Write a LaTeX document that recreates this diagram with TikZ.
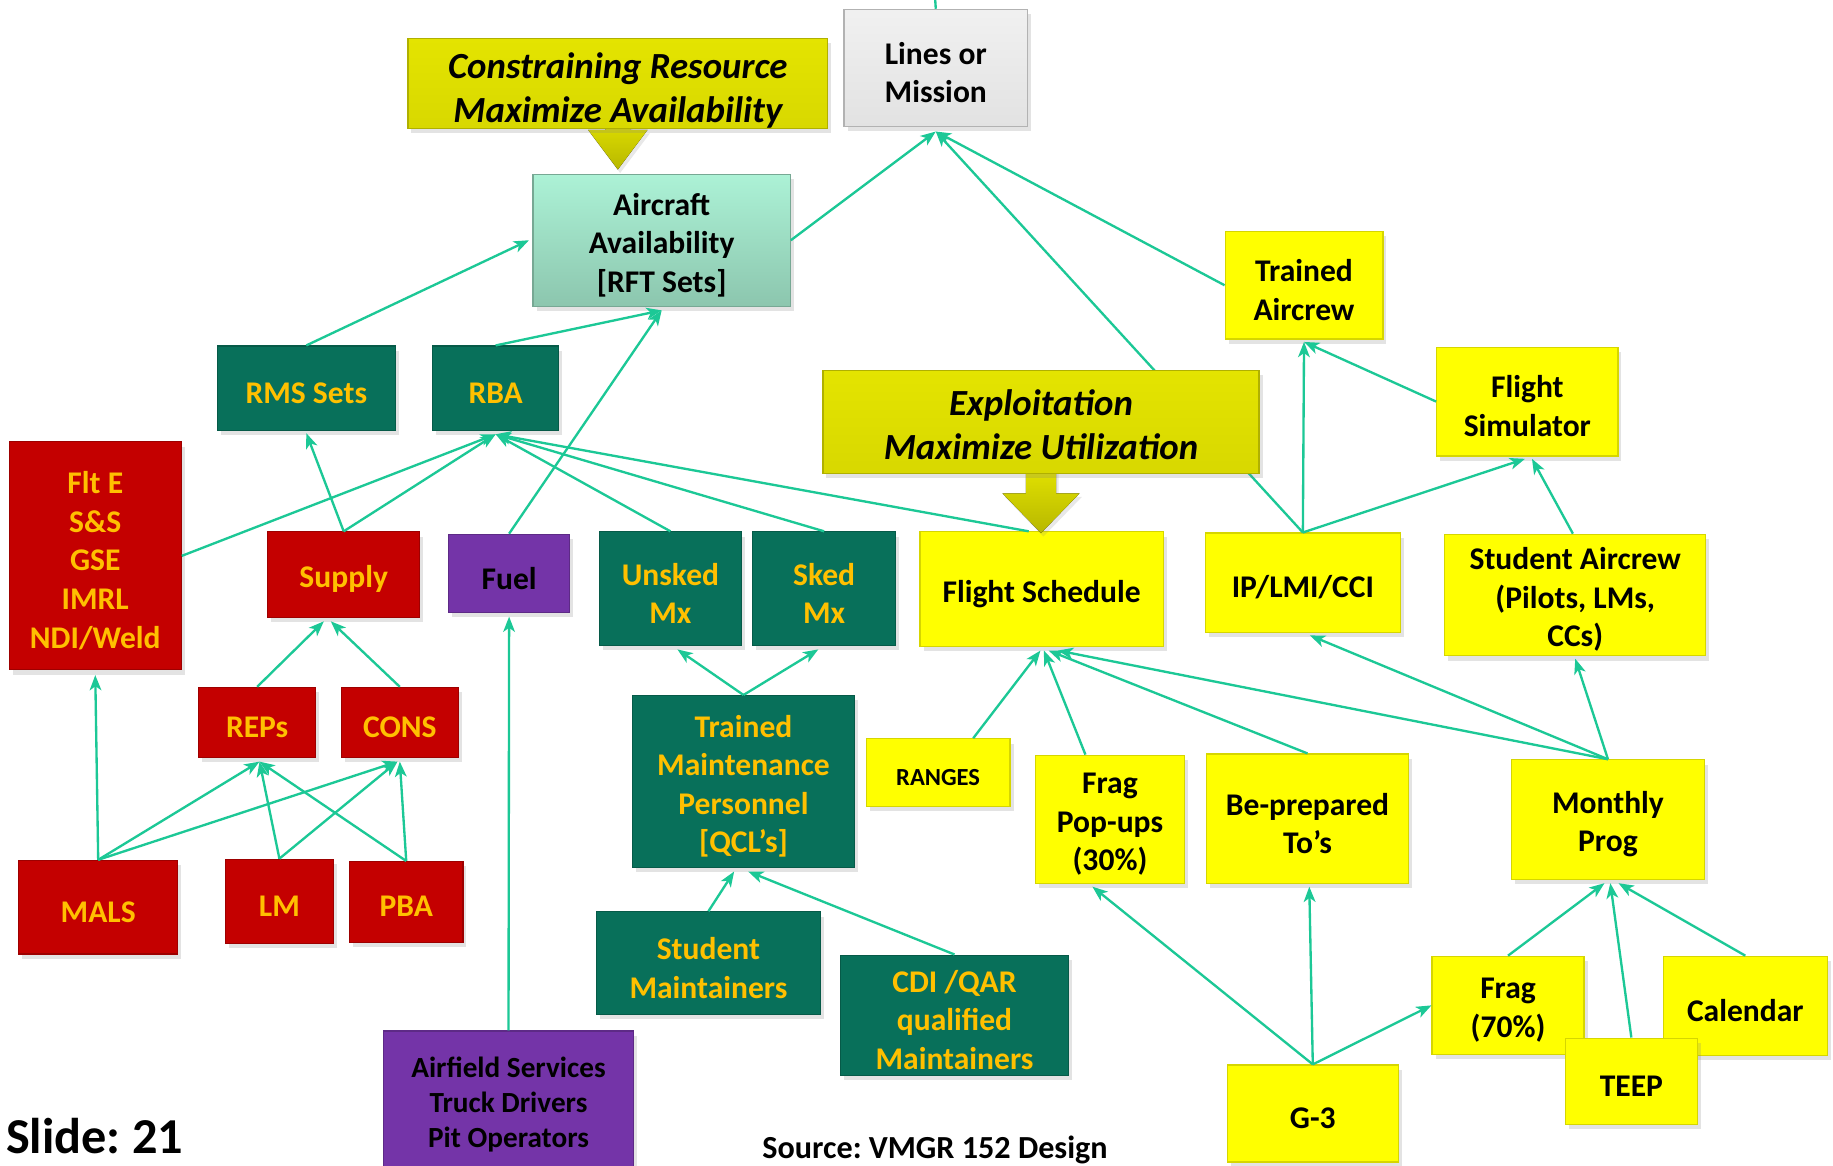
\documentclass[tikz,border=0pt]{standalone}
\usepackage{fontspec}
\setmainfont{Carlito}
\usetikzlibrary{arrows.meta,shadows}
\frenchspacing

\definecolor{cYel}{HTML}{FFFF00}
\definecolor{cYelEdge}{HTML}{D6D600}
\definecolor{cOlive}{HTML}{D8D800}
\definecolor{cOliveTop}{HTML}{E4E400}
\definecolor{cOliveEdge}{HTML}{B0B000}
\definecolor{cGreen}{HTML}{08705A}
\definecolor{cRed}{HTML}{C40000}
\definecolor{cPurple}{HTML}{7434A8}
\definecolor{cGrey}{HTML}{E2E2E2}
\definecolor{cMintTop}{HTML}{ACF2D6}
\definecolor{cMintBot}{HTML}{8CC6AE}
\definecolor{cGold}{HTML}{FFC000}
\definecolor{cLink}{HTML}{1CC896}

% text inside boxes sits a little below the geometric centre:
% an extra kern on top of the text box pushes it down by half its size
\newcommand\textdrop{8pt}
\tikzset{
  textdrop/.code={\renewcommand\textdrop{#1}},
  box/.style={rectangle, inner sep=0pt, align=center, line width=1pt,
    font=\fontsize{27}{33}\selectfont\bfseries,
    execute at begin node={\vbox\bgroup\kern\textdrop\hbox\bgroup},
    execute at end node={\egroup\egroup},
    drop shadow={shadow xshift=3pt, shadow yshift=-4pt, opacity=0.22}},
  sz/.style 2 args={minimum width=#1pt, minimum height=#2pt},
  ybox/.style={box, fill=cYel, draw=cYelEdge, text=black},
  gbox/.style={box, fill=cGreen, draw=cGreen!80!black, text=cGold},
  rbox/.style={box, fill=cRed, draw=cRed!80!black, text=cGold},
  pbox/.style={box, fill=cPurple, draw=cPurple!80!black, text=black},
  greybox/.style={box, top color=cGrey!50!white, bottom color=cGrey, draw=gray!60, text=black},
  mintbox/.style={box, top color=cMintTop, bottom color=cMintBot, draw=cMintBot!85!black, text=black},
  obox/.style={box, top color=cOliveTop, bottom color=cOlive, draw=cOliveEdge, text=black,
    font=\fontsize{31.5}{38}\selectfont\bfseries\itshape},
  blockarrow/.style={top color=cOliveTop, bottom color=cOlive!85!black, draw=none,
    drop shadow={shadow xshift=2pt, shadow yshift=-3pt, opacity=0.18}},
  link/.style={draw=cLink, line width=2pt, -{Stealth[length=13pt,width=10pt,inset=3.5pt]}},
  plain/.style={draw=cLink, line width=2pt},
  caption/.style={anchor=base west, inner sep=0pt, text=black}
}

\begin{document}
\begin{tikzpicture}[x={(1pt,0pt)}, y={(0pt,-1pt)}]
\useasboundingbox[fill=white] (0,0) rectangle (1568,997);

% top level
\node[greybox, sz={157}{100}] (lines) at (800.5,58) {Lines or\\Mission};
\node[mintbox, sz={220}{113}] (aircraft) at (566,205.5) {Aircraft\\Availability\\{[RFT Sets]}};

% availability side
\node[gbox, sz={152}{72}] (rms) at (262,332) {RMS Sets};
\node[gbox, sz={108}{72}] (rba) at (424,332) {RBA};
\node[rbox, sz={147}{195}] (flte) at (81.5,475.5) {Flt E\\S\&S\\GSE\\IMRL\\NDI/Weld};
\node[rbox, sz={130}{73}] (supply) at (294,491.5) {Supply};
\node[pbox, sz={103}{67}] (fuel) at (435.5,490.5) {Fuel};
\node[gbox, sz={121}{97}] (unsked) at (573.5,503.5) {Unsked\\Mx};
\node[gbox, sz={122}{97}] (sked) at (705,503.5) {Sked\\Mx};
\node[rbox, sz={100}{60}] (reps) at (220,618) {REPs};
\node[rbox, sz={100}{60}] (cons) at (342,618) {CONS};
\node[rbox, sz={136}{80}] (mals) at (84,776) {MALS};
\node[rbox, sz={92}{72}] (lm) at (239,771) {LM};
\node[rbox, sz={97}{69}] (pba) at (347.5,771.5) {PBA};
\node[gbox, sz={190}{147}] (tmp) at (636,668.5) {Trained\\Maintenance\\Personnel\\{[QCL’s]}};
\node[gbox, sz={192}{88}] (studmaint) at (606,824) {Student\\Maintainers};
\node[gbox, sz={195}{103}] (cdi) at (816.5,868.5) {CDI /QAR\\qualified\\Maintainers};
\node[pbox, sz={214}{118}, font=\fontsize{25}{30}\selectfont\bfseries] (airfield) at (435,941) {Airfield Services\\Truck Drivers\\Pit Operators};

% utilization side
\node[ybox, sz={208}{98}] (flightsched) at (891,504) {Flight Schedule};
\node[ybox, sz={167}{85}] (ip) at (1114.5,498.5) {IP/LMI/CCI};
\node[ybox, sz={223}{104}] (studentac) at (1347.5,509) {Student Aircrew\\(Pilots, LMs,\\CCs)};
\node[ybox, sz={135}{92}] (trainedac) at (1115.5,244) {Trained\\Aircrew};
\node[ybox, sz={155}{93}] (flightsim) at (1306.5,343.5) {Flight\\Simulator};
\node[ybox, sz={123}{58}, font=\fontsize{21}{25}\selectfont\bfseries] (ranges) at (802.5,661) {RANGES};
\node[ybox, sz={127}{110}] (fragpop) at (949.5,701) {Frag\\Pop-ups\\(30\%)};
\node[ybox, sz={173}{111}] (beprep) at (1118.5,700.5) {Be-prepared\\To’s};
\node[ybox, sz={165}{102}] (monthly) at (1375.5,701) {Monthly\\Prog};
\node[ybox, sz={146}{83}] (g3) at (1123,952.5) {G-3};
\node[ybox, sz={130}{84}] (frag70) at (1290,860) {Frag\\(70\%)};
\node[ybox, sz={140}{85}] (calendar) at (1493,860.5) {Calendar};
\node[ybox, sz={113}{74}] (teep) at (1395.5,925) {TEEP};

% connectors
\coordinate (topexit) at (800,0);
\draw[plain] (lines.north) -- (topexit);
\draw[link] (aircraft.east) -- ([yshift=-4pt]lines.south);
\draw[link] (ip.north) -- ([yshift=-4pt]lines.south);
\draw[link] (trainedac.west) -- ([yshift=-4pt]lines.south);

\draw[link] (rms.north) -- ([xshift=-3pt]aircraft.west);
\draw[link] (rba.north) -- ([yshift=-3pt]aircraft.south);
\draw[link] (fuel.north) -- ([yshift=-3pt]aircraft.south);

\draw[link] (supply.north) -- ([yshift=-2pt]rms.south);
\draw[link] (supply.north) -- ([yshift=-3pt]rba.south);
\draw[link] (flte.east) -- ([yshift=-3pt]rba.south);
\draw[link] (unsked.north) -- ([yshift=-3pt]rba.south);
\draw[link] (sked.north) -- ([yshift=-3pt]rba.south);
\draw[link] ([xshift=-11pt]flightsched.north) -- ([yshift=-3pt]rba.south);

\draw[link] (tmp.north) -- ([xshift=6pt,yshift=-3pt]unsked.south);
\draw[link] (tmp.north) -- ([xshift=-5pt,yshift=-3pt]sked.south);
\draw[link] (studmaint.north) -- ([xshift=-8pt,yshift=-3pt]tmp.south);
\draw[link] (cdi.north) -- ([xshift=4pt,yshift=-3pt]tmp.south);

\draw[link] (reps.north) -- ([xshift=-17pt,yshift=-3pt]supply.south);
\draw[link] (cons.north) -- ([xshift=-11pt,yshift=-3pt]supply.south);
\draw[link] (mals.north) -- ([yshift=-4pt]flte.south);
\draw[link] (mals.north) -- ([xshift=2pt,yshift=-3pt]reps.south);
\draw[link] (mals.north) -- ([xshift=-2pt,yshift=-3pt]cons.south);
\draw[link] (lm.north) -- ([xshift=2pt,yshift=-3pt]reps.south);
\draw[link] (lm.north) -- ([xshift=-2pt,yshift=-3pt]cons.south);
\draw[link] (pba.north) -- ([xshift=2pt,yshift=-3pt]reps.south);
\draw[link] (pba.north) -- ([yshift=-3pt]cons.south);
\draw[link] (airfield.north) -- ([yshift=-3pt]fuel.south);

\draw[link] (ip.north) -- ([yshift=-2pt]trainedac.south);
\draw[link] (ip.north) -- ([xshift=-2pt,yshift=-2pt]flightsim.south);
\draw[link] (flightsim.west) -- ([yshift=-2pt]trainedac.south);
\draw[link] ([xshift=-2pt]studentac.north) -- ([xshift=4pt,yshift=-2pt]flightsim.south);

\draw[link] ([xshift=30pt]ranges.north) -- ([xshift=-1pt,yshift=-3pt]flightsched.south);
\draw[link] ([xshift=-21pt]fragpop.north) -- ([xshift=2pt,yshift=-3pt]flightsched.south);
\draw[link] (beprep.north) -- ([xshift=6pt,yshift=-3pt]flightsched.south);
\draw[link] (monthly.north) -- ([xshift=14pt,yshift=-3pt]flightsched.south);
\draw[link] (monthly.north) -- ([xshift=6pt,yshift=-2pt]ip.south);
\draw[link] (monthly.north) -- ([yshift=-2pt]studentac.south);

\draw[link] (frag70.north) -- ([xshift=-3pt,yshift=-3pt]monthly.south);
\draw[link] (teep.north) -- ([xshift=2pt,yshift=-3pt]monthly.south);
\draw[link] (calendar.north) -- ([xshift=9pt,yshift=-3pt]monthly.south);

\draw[link] (g3.north) -- ([xshift=-15pt,yshift=-2pt]fragpop.south);
\draw[link] (g3.north) -- ([xshift=1.5pt,yshift=-2pt]beprep.south);
\draw[link] (g3.north) -- ([yshift=0pt]frag70.west);

% banner boxes with their block arrows, drawn over the connectors
\fill[blockarrow] (518,98) -- (539,98) -- (539,111) -- (554,111) -- (528.5,145) -- (503,111) -- (518,111) -- cycle;
\node[obox, sz={359}{67}, textdrop=12pt] (constr) at (528.5,71.5) {Constraining Resource\\Maximize Availability};
\fill[blockarrow] (877.5,398) -- (903.5,398) -- (903.5,422) -- (923.5,422) -- (890.5,456) -- (857.5,422) -- (877.5,422) -- cycle;
\node[obox, sz={373}{88}, textdrop=5pt] (exploit) at (890.5,361) {Exploitation\\Maximize Utilization};

% captions
\node[caption, font=\fontsize{43}{50}\selectfont\bfseries] (slide) at (5,987) {Slide: 21};
\node[caption, font=\fontsize{27.5}{32}\selectfont\bfseries] (source) at (652,991) {Source: VMGR 152 Design};
\end{tikzpicture}
\end{document}
